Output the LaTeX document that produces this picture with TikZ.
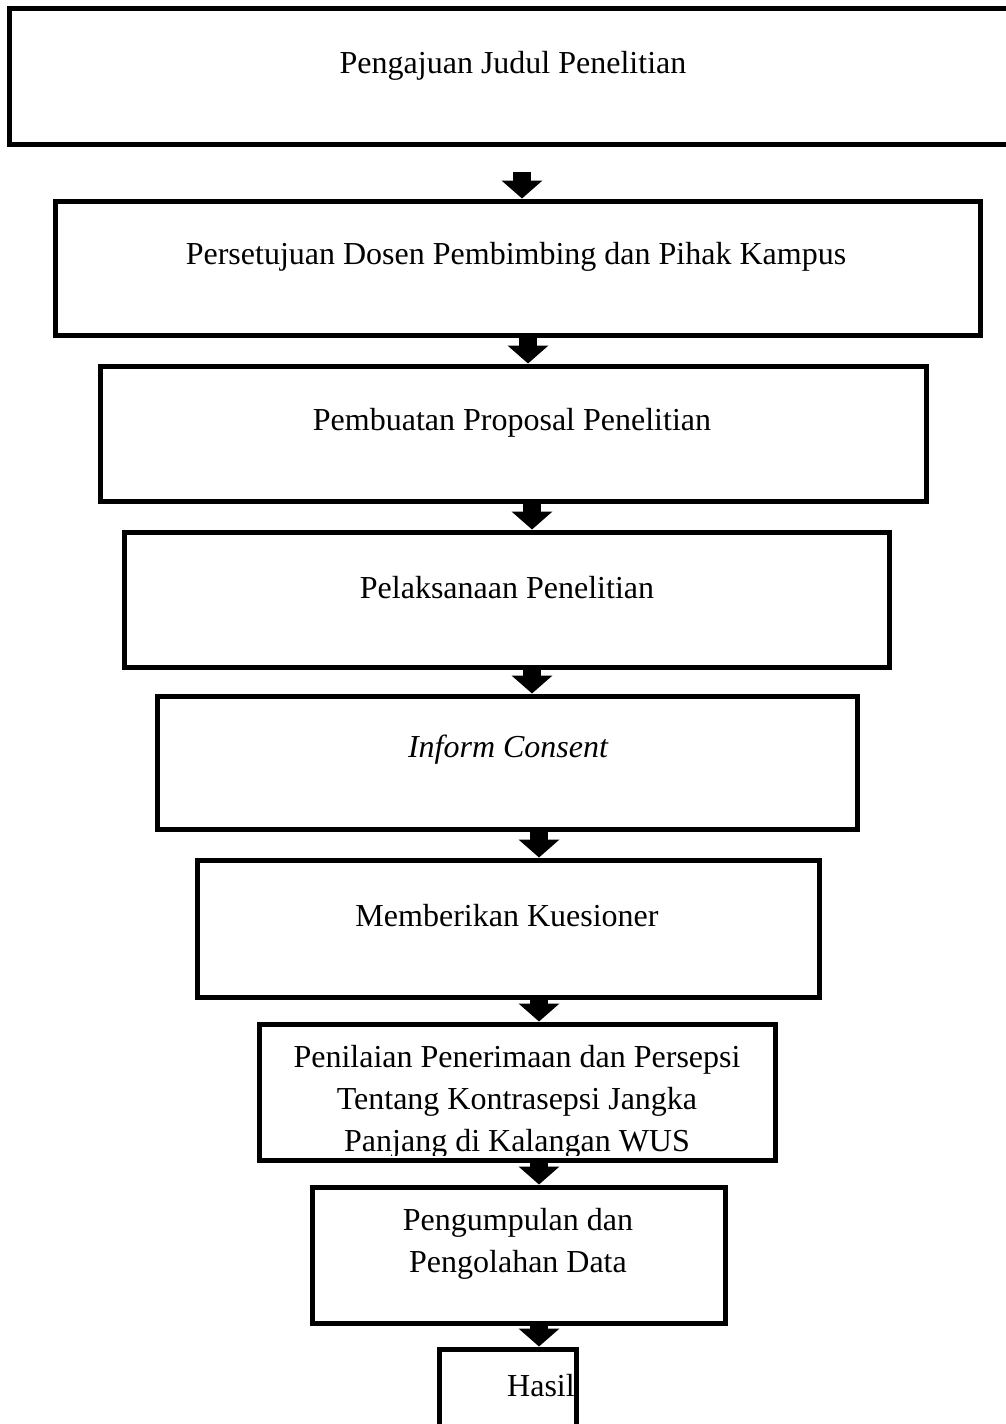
\documentclass[tikz,border=0pt]{standalone}
\usepackage{fontspec}
\setmainfont{Liberation Serif}
\usetikzlibrary{arrows.meta,calc}
\begin{document}
\begin{tikzpicture}[x=1pt,y=-1pt,
  box/.style={draw, line width=5pt, rectangle, inner sep=0pt},
  lbl/.style={font=\fontsize{32}{42}\selectfont, align=center, inner sep=0pt},
  flow/.style={line width=18pt, -{Triangle[length=18pt 0 0, width=40pt 0 0]}}]
\useasboundingbox (0,0) rectangle (1006,1424);
\fill[white] (0,0) rectangle (1006,1424);
% boxes (line centres)
\node[box, minimum width=1006pt, minimum height=136pt] (b1) at (512,76) {};
\node[box, minimum width=925pt, minimum height=134pt] (b2) at (517.5,268) {};
\node[box, minimum width=826pt, minimum height=135pt] (b3) at (513,433.5) {};
\node[box, minimum width=765pt, minimum height=135pt] (b4) at (506.5,599.5) {};
\node[box, minimum width=700pt, minimum height=133pt] (b5) at (507,762.5) {};
\node[box, minimum width=622pt, minimum height=137pt] (b6) at (508,928.5) {};
\node[box, minimum width=516pt, minimum height=136pt] (b7) at (517,1092) {};
\node[box, minimum width=413pt, minimum height=136pt] (b8) at (518.5,1255) {};
\node[box, minimum width=137pt, minimum height=110pt] (b9) at (507.5,1404) {};
% labels
\node[lbl] (t1) at (513,66) {Pengajuan Judul Penelitian};
\node[lbl] (t2) at (516,257) {Persetujuan Dosen Pembimbing dan Pihak Kampus};
\node[lbl] (t3) at (512,423) {Pembuatan Proposal Penelitian};
\node[lbl] (t4) at (507,588) {Pelaksanaan Penelitian};
\node[lbl] (t5) at (508,750) {\itshape Inform Consent};
\node[lbl] (t6) at (507,916) {Memberikan Kuesioner};
\begin{scope}
\clip (259,1026) rectangle (775,1155);
\node[lbl] (t7) at (517,1102) {Penilaian Penerimaan dan Persepsi\\Tentang Kontrasepsi Jangka\\Panjang di Kalangan WUS};
\end{scope}
\node[lbl] (t8) at (518,1244) {Pengumpulan dan\\Pengolahan Data};
\node[lbl] (t9) at (541,1386) {Hasil};
% arrows
\coordinate (s1) at (522,172);
\draw[flow] (s1) -- (s1 |- b2.north);
\draw[flow] (528,0 |- b2.south) -- (528,0 |- b3.north);
\draw[flow] (532,0 |- b3.south) -- (532,0 |- b4.north);
\draw[flow] (532,0 |- b4.south) -- (532,0 |- b5.north);
\draw[flow] (539,0 |- b5.south) -- (539,0 |- b6.north);
\draw[flow] (539,0 |- b6.south) -- (539,0 |- b7.north);
\draw[flow] (539,0 |- b7.south) -- (539,0 |- b8.north);
\draw[flow] (539,0 |- b8.south) -- (539,0 |- b9.north);
\end{tikzpicture}
\end{document}
